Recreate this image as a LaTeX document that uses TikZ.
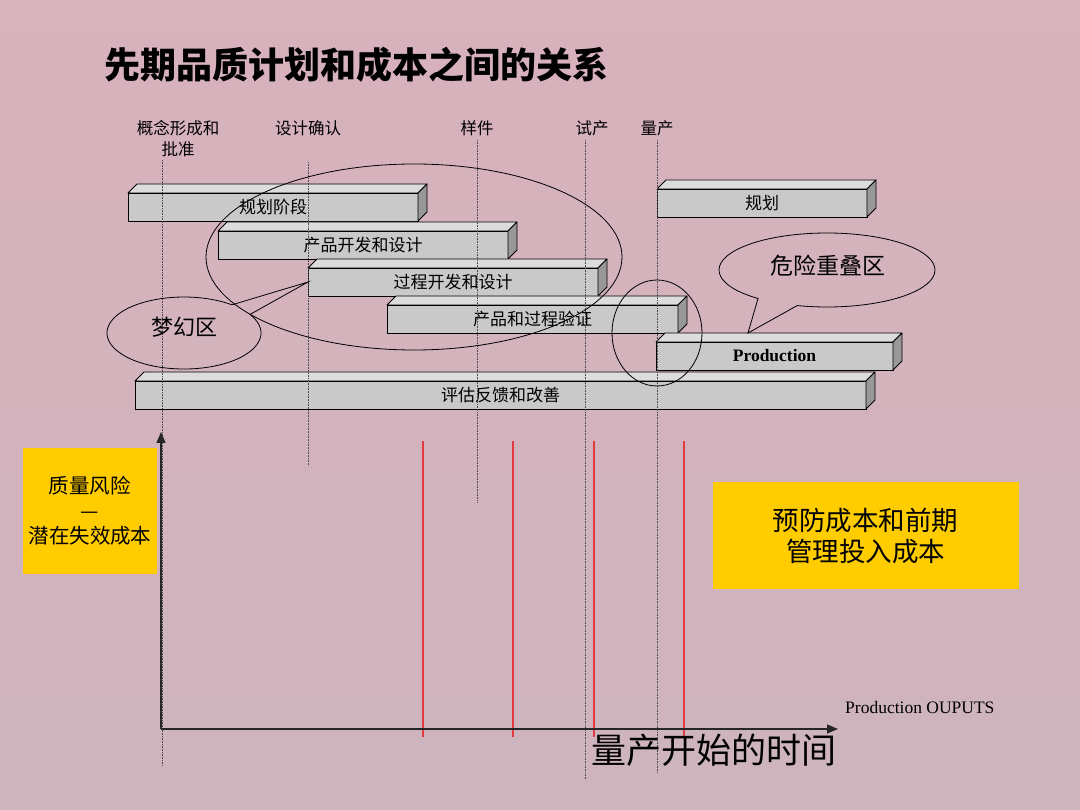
\documentclass[tikz,border=0pt]{standalone}
\usepackage{fontspec}
\setmainfont{Liberation Serif}
\newfontfamily\cjk{Noto Sans CJK SC}
\usetikzlibrary{arrows.meta,shapes.geometric}
\definecolor{bgTop}{HTML}{D8B2BC}
\definecolor{bgBot}{HTML}{CDB4BD}
\definecolor{cFront}{HTML}{C9C9C9}
\definecolor{cTop}{HTML}{DCDCDC}
\definecolor{cSide}{HTML}{989898}
\definecolor{cYellow}{HTML}{FFCC00}
\definecolor{cRed}{HTML}{E5393F}
\tikzset{
  barfront/.style={draw=black, line width=0.8pt, fill=cFront, minimum height=28pt,
    inner sep=0pt, outer sep=0pt, font=\cjk\fontsize{17}{20}\selectfont},
  bartop/.style={draw=black, line width=0.8pt, fill=cTop, line join=round},
  barside/.style={draw=black, line width=0.8pt, fill=cSide, line join=round},
  milestone/.style={inner sep=0pt, font=\cjk\fontsize{16.5}{21}\selectfont, align=center},
  guide/.style={densely dotted, line width=0.6pt, black!70},
  redline/.style={cRed, line width=1.3pt},
  ring/.style={draw=black, line width=0.8pt},
  callout/.style={draw=black, line width=0.8pt, line join=miter},
  axis/.style={line width=1.3pt, black!85, -{Triangle[length=11pt,width=9pt]}},
  ybox/.style={fill=cYellow, inner sep=0pt, align=center},
}
\newcommand\phasebar[5]{%
  \node[barfront, minimum width=#4pt] (#1) at (#2,#3) {#5};
  \path[bartop] (#1.north west) -- ++(9,-9) -- ([shift={(9,-9)}]#1.north east) -- (#1.north east) -- cycle;
  \path[barside] (#1.north east) -- ++(9,-9) -- ([shift={(9,-9)}]#1.south east) -- (#1.south east) -- cycle;
}
\begin{document}
\begin{tikzpicture}[x=1pt,y=-1pt]
\useasboundingbox (0,0) rectangle (1080,810);
\shade[top color=bgTop, bottom color=bgBot] (0,0) rectangle (1080,810);

% title
\node[anchor=west, inner sep=0pt, font=\cjk\bfseries\fontsize{36}{40}\selectfont] (title) at (104,65) {先期品质计划和成本之间的关系};

% milestones
\node[milestone] (m1) at (178,139) {概念形成和\\批准};
\node[milestone] (m2) at (308,128) {设计确认};
\node[milestone] (m3) at (477,128) {样件};
\node[milestone] (m4) at (592,128) {试产};
\node[milestone] (m5) at (657,128) {量产};

% bars
\phasebar{b1}{273}{207}{290}{规划阶段}
\phasebar{b2}{363}{245}{290}{产品开发和设计}
\phasebar{b3}{453}{282}{290}{过程开发和设计}
\phasebar{b4}{532.5}{319}{291}{产品和过程验证}
\phasebar{b6}{762}{203}{210}{规划}
\phasebar{b7}{774.5}{356}{237}{\rmfamily\bfseries\fontsize{17.5}{20}\selectfont Production}
\phasebar{b5}{500.5}{395}{731}{评估反馈和改善}

% guide lines
\coordinate (g1t) at (162,160); \coordinate (g1b) at (162,765);
\coordinate (g2t) at (308,162); \coordinate (g2b) at (308,466);
\coordinate (g3t) at (477,140); \coordinate (g3b) at (477,503);
\coordinate (g4t) at (585,140); \coordinate (g4b) at (585,780);
\coordinate (g5t) at (657,140); \coordinate (g5b) at (657,773);
\draw[guide] (g1t) -- (g1b);
\draw[guide] (g2t) -- (g2b);
\draw[guide] (g3t) -- (g3b);
\draw[guide] (g4t) -- (g4b);
\draw[guide] (g5t) -- (g5b);

% rings
\draw[ring] (414,257) ellipse [x radius=208, y radius=93];
\draw[ring] (657,333) ellipse [x radius=45, y radius=53];

% dream callout
\coordinate (dreamc) at (184,333);
\node[inner sep=0pt, font=\cjk\fontsize{22}{24}\selectfont] (dream) at (184,327) {梦幻区};
\draw[callout] (dreamc) ++(-31:77 and 36) arc[start angle=-31, end angle=308.5, x radius=77, y radius=36] -- (b3.west) -- cycle;

% danger callout
\coordinate (dangc) at (827,270);
\coordinate (dangtip) at (748,333);
\node[inner sep=0pt, font=\cjk\fontsize{23}{25}\selectfont] (danger) at (828,266) {危险重叠区};
\draw[callout] (dangc) ++(129.7:108 and 37) arc[start angle=129.7, end angle=466, x radius=108, y radius=37] -- (dangtip) -- cycle;

% red lines
\foreach \x/\n in {423/r1,513/r2,594/r3,684/r4}{
  \coordinate (\n t) at (\x,441);
  \coordinate (\n b) at (\x,737);
  \draw[redline] (\n t) -- (\n b);
}

% axes
\coordinate (O) at (161,729);
\coordinate (Ytop) at (161,432);
\coordinate (Xend) at (838,729);
\draw[axis] (O) -- (Ytop);
\draw[axis] (O) -- (Xend);

\node[inner sep=0pt, font=\cjk\fontsize{35}{38}\selectfont] (xlab) at (714,750) {量产开始的时间};
\node[anchor=west, inner sep=0pt, font=\fontsize{17.5}{20}\selectfont] (outputs) at (845,708) {Production OUPUTS};

% yellow boxes
\node[ybox, minimum width=134pt, minimum height=125pt, font=\cjk\fontsize{20.5}{25}\selectfont] (risk) at (90,511) {质量风险\\—\\潜在失效成本};
\node[ybox, minimum width=306pt, minimum height=107pt, font=\cjk\fontsize{26.5}{31}\selectfont] (prev) at (865.5,535.5) {预防成本和前期\\管理投入成本};
\end{tikzpicture}
\end{document}
